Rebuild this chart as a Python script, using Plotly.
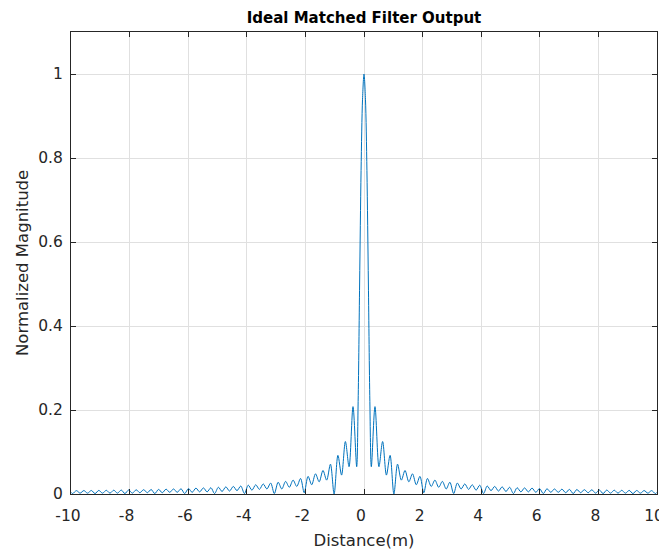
import plotly.graph_objects as go

# Positive-side trace of |matched filter output|:
# main lobe samples, then alternating trough / sidelobe-peak points.
pos_distance = [
    0.00, 0.05, 0.10, 0.15, 0.20, 0.25,
    0.375, 0.51, 0.635, 0.765, 0.89, 1.02, 1.145, 1.275, 1.40, 1.53,
    1.655, 1.785, 1.91, 2.04, 2.165, 2.295, 2.42, 2.55, 2.675, 2.805,
    2.93, 3.06, 3.185, 3.315, 3.44, 3.57, 3.695, 3.825, 3.95, 4.08,
    4.205, 4.335, 4.46, 4.59, 4.715, 4.845, 4.97, 5.10, 5.225, 5.355,
    5.48, 5.61, 5.735, 5.865, 5.99, 6.12, 6.245, 6.375, 6.50, 6.63,
    6.755, 6.885, 7.01, 7.14, 7.265, 7.395, 7.52, 7.65, 7.775, 7.905,
    8.03, 8.16, 8.285, 8.415, 8.54, 8.67, 8.795, 8.925, 9.05, 9.18,
    9.305, 9.435, 9.56, 9.69, 9.815, 9.945, 10.0,
]
pos_magnitude = [
    1.0, 0.94, 0.77, 0.50, 0.22, 0.065,
    0.208, 0.065, 0.125, 0.045, 0.092, 0.0, 0.071, 0.033, 0.056, 0.029,
    0.048, 0.022, 0.042, 0.003, 0.037, 0.018, 0.033, 0.016, 0.030, 0.012,
    0.028, 0.001, 0.026, 0.012, 0.024, 0.011, 0.022, 0.009, 0.021, 0.001,
    0.019, 0.008, 0.018, 0.007, 0.017, 0.006, 0.016, 0.001, 0.015, 0.005,
    0.0145, 0.005, 0.014, 0.004, 0.013, 0.001, 0.0125, 0.004, 0.012, 0.004,
    0.0115, 0.003, 0.011, 0.001, 0.0107, 0.003, 0.0103, 0.003, 0.010, 0.002,
    0.0097, 0.001, 0.0094, 0.002, 0.0091, 0.002, 0.0088, 0.002, 0.0086, 0.001,
    0.0084, 0.002, 0.0082, 0.002, 0.0080, 0.001, 0.004,
]

# symmetric output: mirror the positive side
distance = [-d for d in reversed(pos_distance[1:])] + pos_distance
magnitude = list(reversed(pos_magnitude[1:])) + pos_magnitude

x_ticks = [-10, -8, -6, -4, -2, 0, 2, 4, 6, 8, 10]
x_tick_labels = ["-10", "-8", "-6", "-4", "-2", "0", "2", "4", "6", "8", "10"]
y_ticks = [0, 0.2, 0.4, 0.6, 0.8, 1]
y_tick_labels = ["0", "0.2", "0.4", "0.6", "0.8", "1"]

FONT = "DejaVu Sans, Verdana, sans-serif"
AX = "#262626"
GRID = "#e0e0e0"

# the page body adds an 8px offset; size the figure so the plot area lands right
W, H = 667, 547
ML, MR, MT, MB = 63, 18, 24, 61
plot_w = W - ML - MR

fig = go.Figure()
fig.add_trace(go.Scatter(
    x=distance, y=magnitude, mode="lines",
    line=dict(color="#0072BD", width=1, shape="spline", smoothing=0.9),
    showlegend=False, hoverinfo="x+y",
))

fig.update_layout(
    width=W, height=H,
    paper_bgcolor="white", plot_bgcolor="white",
    margin=dict(l=ML, r=MR, t=MT, b=MB, autoexpand=False),
    font=dict(family=FONT, color=AX, size=15),
    title=dict(
        text="<b>Ideal Matched Filter Output</b>",
        x=(ML + (W - MR)) / 2 / W, xanchor="center",
        y=1 - 10 / H, yanchor="middle", yref="container",
        font=dict(family=FONT, size=15, color="black"),
    ),
    annotations=[dict(
        text="Normalized Magnitude", textangle=-90,
        xref="paper", yref="paper", x=(14 - ML) / plot_w, y=0.5,
        xanchor="center", yanchor="middle", showarrow=False,
        font=dict(family=FONT, size=16.5, color=AX),
    )],
)
fig.update_xaxes(
    range=[-10, 10], tickvals=x_ticks, ticktext=x_tick_labels,
    ticks="inside", ticklen=5, tickcolor=AX, tickwidth=1,
    showline=True, linecolor=AX, linewidth=1, mirror="ticks",
    showgrid=True, gridcolor=GRID, gridwidth=1, zeroline=False,
    tickfont=dict(size=15.5, color=AX), ticklabelstandoff=7, ticklabelshift=-3,
    automargin=False,
    title=dict(text="Distance(m)", font=dict(size=16.5, color=AX), standoff=10),
)
fig.update_yaxes(
    range=[0, 1.1], tickvals=y_ticks, ticktext=y_tick_labels,
    ticks="inside", ticklen=5, tickcolor=AX, tickwidth=1,
    showline=True, linecolor=AX, linewidth=1, mirror="ticks",
    showgrid=True, gridcolor=GRID, gridwidth=1, zeroline=False,
    tickfont=dict(size=15.5, color=AX), ticklabelstandoff=4, automargin=False,
)

fig.write_html("out.html")
